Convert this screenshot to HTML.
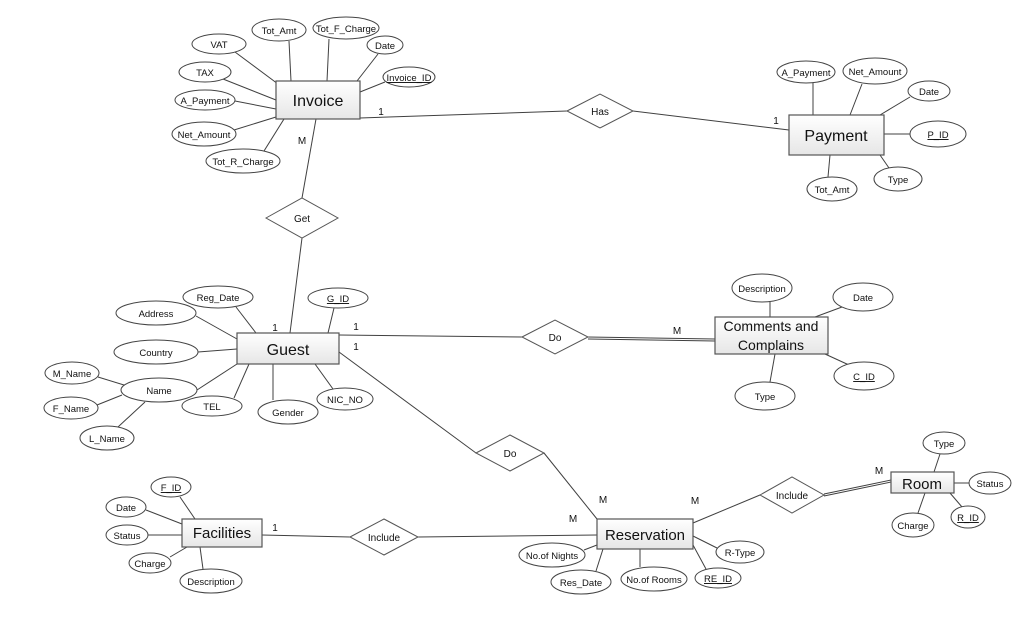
<!DOCTYPE html>
<html><head><meta charset="utf-8"><style>
html,body{margin:0;padding:0;background:#fff;}
svg text{font-family:"Liberation Sans",sans-serif;}
</style></head><body>
<svg width="1033" height="627" viewBox="0 0 1033 627" xmlns="http://www.w3.org/2000/svg">
<defs>
<linearGradient id="g" x1="0" y1="0" x2="0" y2="1"><stop offset="0" stop-color="#fff"/><stop offset="1" stop-color="#e6e6e6"/></linearGradient>
</defs>
<g stroke="#404040" stroke-width="1" fill="none">
<!-- relationships -->
<line x1="360" y1="118" x2="567" y2="111"/><line x1="633" y1="111" x2="789" y2="130"/>
<line x1="316" y1="119" x2="302" y2="198"/><line x1="302" y1="238" x2="290" y2="333"/>
<line x1="339" y1="335" x2="522" y2="337"/>
<line x1="588" y1="337" x2="715" y2="339"/><line x1="588" y1="339" x2="715" y2="341"/>
<line x1="339" y1="352" x2="476" y2="453"/><line x1="544" y1="453" x2="597" y2="519"/>
<line x1="262" y1="535" x2="350" y2="537"/><line x1="418" y1="537" x2="597" y2="535"/>
<line x1="693" y1="523" x2="760" y2="495"/>
<line x1="824" y1="494" x2="891" y2="480"/><line x1="824" y1="496" x2="891" y2="482"/>
<!-- invoice attrs -->
<line x1="235" y1="52" x2="278" y2="84"/><line x1="289" y1="41" x2="291" y2="81"/>
<line x1="329" y1="39" x2="327" y2="81"/><line x1="378" y1="54" x2="357" y2="81"/>
<line x1="385" y1="82" x2="360" y2="92"/><line x1="223" y1="79" x2="276" y2="100"/>
<line x1="235" y1="101" x2="276" y2="109"/><line x1="234" y1="130" x2="276" y2="117"/>
<line x1="264" y1="151" x2="284" y2="119"/>
<!-- payment attrs -->
<line x1="813" y1="83" x2="813" y2="115"/><line x1="862" y1="84" x2="850" y2="115"/>
<line x1="910" y1="97" x2="880" y2="115"/><line x1="910" y1="134" x2="884" y2="134"/>
<line x1="889" y1="168" x2="880" y2="155"/><line x1="828" y1="177" x2="830" y2="155"/>
<!-- guest attrs -->
<line x1="196" y1="316" x2="237" y2="339"/><line x1="236" y1="307" x2="256" y2="333"/>
<line x1="334" y1="308" x2="328" y2="333"/><line x1="198" y1="352" x2="237" y2="349"/>
<line x1="197" y1="390" x2="237" y2="364"/><line x1="98" y1="377" x2="124" y2="385"/>
<line x1="97" y1="405" x2="122" y2="395"/><line x1="118" y1="427" x2="145" y2="402"/>
<line x1="234" y1="398" x2="249" y2="364"/><line x1="273" y1="400" x2="273" y2="364"/>
<line x1="333" y1="389" x2="315" y2="364"/>
<!-- comments attrs -->
<line x1="770" y1="302" x2="770" y2="317"/><line x1="842" y1="307" x2="815" y2="317"/>
<line x1="770" y1="382" x2="775" y2="354"/><line x1="849" y1="365" x2="825" y2="354"/>
<!-- room attrs -->
<line x1="940" y1="454" x2="934" y2="472"/><line x1="969" y1="483" x2="954" y2="483"/>
<line x1="962" y1="507" x2="950" y2="493"/><line x1="918" y1="513" x2="925" y2="493"/>
<!-- reservation attrs -->
<line x1="584" y1="550" x2="597" y2="545"/><line x1="596" y1="571" x2="603" y2="549"/>
<line x1="640" y1="567" x2="640" y2="549"/><line x1="706" y1="569" x2="693" y2="545"/>
<line x1="717" y1="548" x2="693" y2="536"/>
<!-- facilities attrs -->
<line x1="180" y1="497" x2="195" y2="519"/><line x1="146" y1="510" x2="182" y2="524"/>
<line x1="148" y1="535" x2="182" y2="535"/><line x1="170" y1="557" x2="187" y2="547"/>
<line x1="203" y1="569" x2="200" y2="547"/>
</g>
<!-- entities -->
<g stroke="#555" stroke-width="1.2" fill="url(#g)">
<rect x="276" y="81" width="84" height="38"/>
<rect x="789" y="115" width="95" height="40"/>
<rect x="237" y="333" width="102" height="31"/>
<rect x="715" y="317" width="113" height="37"/>
<rect x="182" y="519" width="80" height="28"/>
<rect x="597" y="519" width="96" height="30"/>
<rect x="891" y="472" width="63" height="21"/>
</g>
<g font-size="16" fill="#111" text-anchor="middle">
<text x="318" y="106">Invoice</text>
<text x="836" y="141">Payment</text>
<text x="288" y="355">Guest</text>
<text x="771" y="331" font-size="14">Comments and</text>
<text x="771" y="350" font-size="14">Complains</text>
<text x="222" y="538" font-size="15">Facilities</text>
<text x="645" y="540" font-size="15">Reservation</text>
<text x="922" y="489" font-size="15">Room</text>
</g>
<!-- diamonds -->
<g stroke="#555" stroke-width="1" fill="#fff">
<polygon points="567,111 600,94 633,111 600,128"/>
<polygon points="266,218 302,198 338,218 302,238"/>
<polygon points="522,337 555,320 588,337 555,354"/>
<polygon points="476,453 510,435 544,453 510,471"/>
<polygon points="350,537 384,519 418,537 384,555"/>
<polygon points="760,495 792,477 824,495 792,513"/>
</g>
<g font-size="10" fill="#111" text-anchor="middle">
<text x="600" y="115">Has</text><text x="302" y="222">Get</text>
<text x="555" y="341">Do</text><text x="510" y="457">Do</text>
<text x="384" y="541">Include</text><text x="792" y="499">Include</text>
</g>
<!-- ellipses -->
<g stroke="#444" stroke-width="1" fill="#fff">
<ellipse cx="219" cy="44" rx="27" ry="10"/><ellipse cx="279" cy="30" rx="27" ry="11"/>
<ellipse cx="346" cy="28" rx="33" ry="11"/><ellipse cx="385" cy="45" rx="18" ry="9"/>
<ellipse cx="409" cy="77" rx="26" ry="10"/><ellipse cx="205" cy="72" rx="26" ry="10"/>
<ellipse cx="205" cy="100" rx="30" ry="10"/><ellipse cx="204" cy="134" rx="32" ry="12"/>
<ellipse cx="243" cy="161" rx="37" ry="12"/>
<ellipse cx="806" cy="72" rx="29" ry="11"/><ellipse cx="875" cy="71" rx="32" ry="13"/>
<ellipse cx="929" cy="91" rx="21" ry="10"/><ellipse cx="938" cy="134" rx="28" ry="13"/>
<ellipse cx="898" cy="179" rx="24" ry="12"/><ellipse cx="832" cy="189" rx="25" ry="12"/>
<ellipse cx="218" cy="297" rx="35" ry="11"/><ellipse cx="338" cy="298" rx="30" ry="10"/>
<ellipse cx="156" cy="313" rx="40" ry="12"/><ellipse cx="156" cy="352" rx="42" ry="12"/>
<ellipse cx="159" cy="390" rx="38" ry="12"/><ellipse cx="72" cy="373" rx="27" ry="11"/>
<ellipse cx="71" cy="408" rx="27" ry="11"/><ellipse cx="107" cy="438" rx="27" ry="12"/>
<ellipse cx="212" cy="406" rx="30" ry="10"/><ellipse cx="288" cy="412" rx="30" ry="12"/>
<ellipse cx="345" cy="399" rx="28" ry="11"/>
<ellipse cx="762" cy="288" rx="30" ry="14"/><ellipse cx="863" cy="297" rx="30" ry="14"/>
<ellipse cx="765" cy="396" rx="30" ry="14"/><ellipse cx="864" cy="376" rx="30" ry="14"/>
<ellipse cx="944" cy="443" rx="21" ry="11"/><ellipse cx="990" cy="483" rx="21" ry="11"/>
<ellipse cx="968" cy="517" rx="17" ry="11"/><ellipse cx="913" cy="525" rx="21" ry="12"/>
<ellipse cx="552" cy="555" rx="33" ry="12"/><ellipse cx="581" cy="582" rx="30" ry="12"/>
<ellipse cx="654" cy="579" rx="33" ry="12"/><ellipse cx="718" cy="578" rx="23" ry="10"/>
<ellipse cx="740" cy="552" rx="24" ry="11"/>
<ellipse cx="171" cy="487" rx="20" ry="10"/><ellipse cx="126" cy="507" rx="20" ry="10"/>
<ellipse cx="127" cy="535" rx="21" ry="10"/><ellipse cx="150" cy="563" rx="21" ry="10"/>
<ellipse cx="211" cy="581" rx="31" ry="12"/>
</g>
<g font-size="9.5" fill="#111" text-anchor="middle">
<text x="219" y="48">VAT</text><text x="279" y="34">Tot_Amt</text>
<text x="346" y="32">Tot_F_Charge</text><text x="385" y="49">Date</text>
<text x="409" y="81" text-decoration="underline">Invoice_ID</text><text x="205" y="76">TAX</text>
<text x="205" y="104">A_Payment</text><text x="204" y="138">Net_Amount</text>
<text x="243" y="165">Tot_R_Charge</text>
<text x="806" y="76">A_Payment</text><text x="875" y="75">Net_Amount</text>
<text x="929" y="95">Date</text><text x="938" y="138" text-decoration="underline">P_ID</text>
<text x="898" y="183">Type</text><text x="832" y="193">Tot_Amt</text>
<text x="218" y="301">Reg_Date</text><text x="338" y="302" text-decoration="underline">G_ID</text>
<text x="156" y="317">Address</text><text x="156" y="356">Country</text>
<text x="159" y="394">Name</text><text x="72" y="377">M_Name</text>
<text x="71" y="412">F_Name</text><text x="107" y="442">L_Name</text>
<text x="212" y="410">TEL</text><text x="288" y="416">Gender</text>
<text x="345" y="403">NIC_NO</text>
<text x="762" y="292">Description</text><text x="863" y="301">Date</text>
<text x="765" y="400">Type</text><text x="864" y="380" text-decoration="underline">C_ID</text>
<text x="944" y="447">Type</text><text x="990" y="487">Status</text>
<text x="968" y="521" text-decoration="underline">R_ID</text><text x="913" y="529">Charge</text>
<text x="552" y="559">No.of  Nights</text><text x="581" y="586">Res_Date</text>
<text x="654" y="583">No.of Rooms</text><text x="718" y="582" text-decoration="underline">RE_ID</text>
<text x="740" y="556">R-Type</text>
<text x="171" y="491" text-decoration="underline">F_ID</text><text x="126" y="511">Date</text>
<text x="127" y="539">Status</text><text x="150" y="567">Charge</text>
<text x="211" y="585">Description</text>
</g>
<g font-size="10" fill="#111" text-anchor="middle">
<text x="381" y="115">1</text><text x="776" y="124">1</text>
<text x="302" y="144">M</text><text x="275" y="331">1</text>
<text x="356" y="330">1</text><text x="677" y="334">M</text>
<text x="356" y="350">1</text><text x="603" y="503">M</text>
<text x="275" y="531">1</text><text x="573" y="522">M</text>
<text x="695" y="504">M</text><text x="879" y="474">M</text>
</g>
</svg>
</body></html>
